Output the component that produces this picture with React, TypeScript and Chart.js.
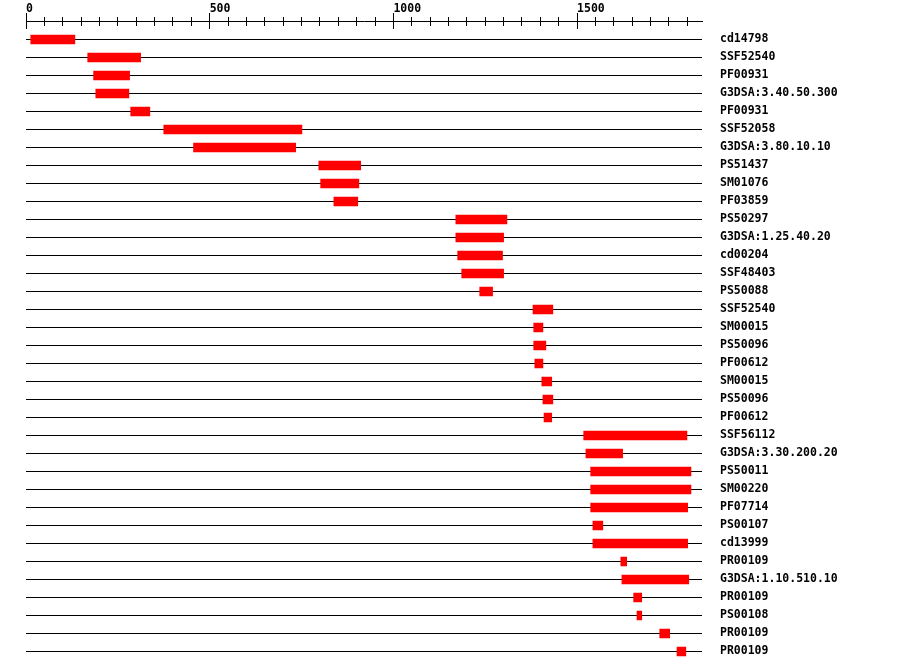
import React, { useEffect, useRef } from "react";
import { Chart, registerables } from "chart.js";

Chart.register(...registerables);

const names: string[] = [
  "cd14798", "SSF52540", "PF00931", "G3DSA:3.40.50.300", "PF00931", "SSF52058",
  "G3DSA:3.80.10.10", "PS51437", "SM01076", "PF03859", "PS50297", "G3DSA:1.25.40.20",
  "cd00204", "SSF48403", "PS50088", "SSF52540", "SM00015", "PS50096", "PF00612",
  "SM00015", "PS50096", "PF00612", "SSF56112", "G3DSA:3.30.200.20", "PS50011",
  "SM00220", "PF07714", "PS00107", "cd13999", "PR00109", "G3DSA:1.10.510.10",
  "PR00109", "PS00108", "PR00109", "PR00109",
];

const starts: number[] = [
  13, 168, 184, 190, 285, 375, 456, 797, 802, 838, 1170, 1170, 1175, 1186, 1235,
  1380, 1382, 1382, 1385, 1404, 1407, 1410, 1518, 1524, 1537, 1537, 1537, 1543,
  1543, 1619, 1622, 1654, 1663, 1725, 1772,
];

const ends: number[] = [
  133, 312, 282, 280, 337, 751, 734, 911, 906, 903, 1309, 1300, 1297, 1300, 1270,
  1434, 1407, 1415, 1407, 1431, 1434, 1431, 1799, 1624, 1810, 1810, 1801, 1570,
  1801, 1635, 1804, 1676, 1676, 1752, 1796,
];

const axisMax = 1840;
const tickStep = 50;
const majorStep = 500;

const FONT_FAMILY = "'DejaVu Sans Mono', monospace";

const rulerPlugin = {
  id: "ruler",
  afterDraw(chart: any) {
    const xs = chart.scales.x;
    const ctx = chart.ctx;
    ctx.save();
    ctx.strokeStyle = "#000";
    ctx.lineWidth = 1;
    ctx.beginPath();
    for (const t of xs.ticks) {
      const px = Math.floor(xs.getPixelForValue(t.value)) + 0.5;
      const major = t.value % majorStep === 0;
      ctx.moveTo(px, major ? 13 : 17);
      ctx.lineTo(px, major ? 29 : 26);
    }
    ctx.stroke();
    ctx.restore();
  },
};

export default function App() {
  const ref = useRef<HTMLCanvasElement | null>(null);

  useEffect(() => {
    if (!ref.current) return;
    const data = names.map((_, i) => ({ y: i, x: [starts[i], ends[i]] }));
    const chart = new Chart(ref.current, {
      type: "bar",
      data: {
        datasets: [
          {
            data: data as any,
            backgroundColor: "#ff0000",
            borderWidth: 0,
            borderSkipped: false,
            barThickness: 9,
          },
        ],
      },
      options: {
        indexAxis: "y",
        animation: false,
        responsive: true,
        maintainAspectRatio: false,
        layout: { padding: { left: 26, right: 0, top: 0.5, bottom: 9.5 } },
        plugins: { legend: { display: false }, tooltip: { enabled: false } },
        scales: {
          x: {
            type: "linear",
            position: "top",
            min: 0,
            max: axisMax,
            offset: false,
            afterFit: (s: any) => {
              s.height = 21;
              s.paddingLeft = 0;
              s.paddingRight = 0;
            },
            ticks: {
              stepSize: tickStep,
              includeBounds: false,
              autoSkip: false,
              maxRotation: 0,
              align: "start",
              padding: 6,
              color: "#000",
              font: { family: FONT_FAMILY, size: 11.5, weight: "bold" },
              callback: (v: any) => (Number(v) % majorStep === 0 ? String(v) : ""),
            },
            grid: { drawOnChartArea: false, drawTicks: false, offset: false },
            border: { display: true, color: "#000", width: 1 },
          },
          y: {
            type: "linear",
            position: "right",
            reverse: true,
            min: -1,
            max: 34.5,
            offset: false,
            afterFit: (s: any) => {
              s.width = 198;
              s.paddingTop = 0;
              s.paddingBottom = 0;
            },
            afterBuildTicks: (s: any) => {
              s.ticks = names.map((_, i) => ({ value: i }));
            },
            ticks: {
              autoSkip: false,
              padding: 18,
              color: "#000",
              font: { family: FONT_FAMILY, size: 11.5, weight: "bold" },
              callback: (v: any) => names[Number(v)] ?? "",
            },
            grid: { color: "#000", lineWidth: 1, drawTicks: false, drawOnChartArea: true, offset: false },
            border: { display: false },
          },
        },
      },
      plugins: [rulerPlugin],
    });
    return () => chart.destroy();
  }, []);

  return (
    <div style={{ position: "absolute", left: 0, top: 0, width: 900, height: 670, background: "#fff" }}>
      <canvas ref={ref} />
    </div>
  );
}
